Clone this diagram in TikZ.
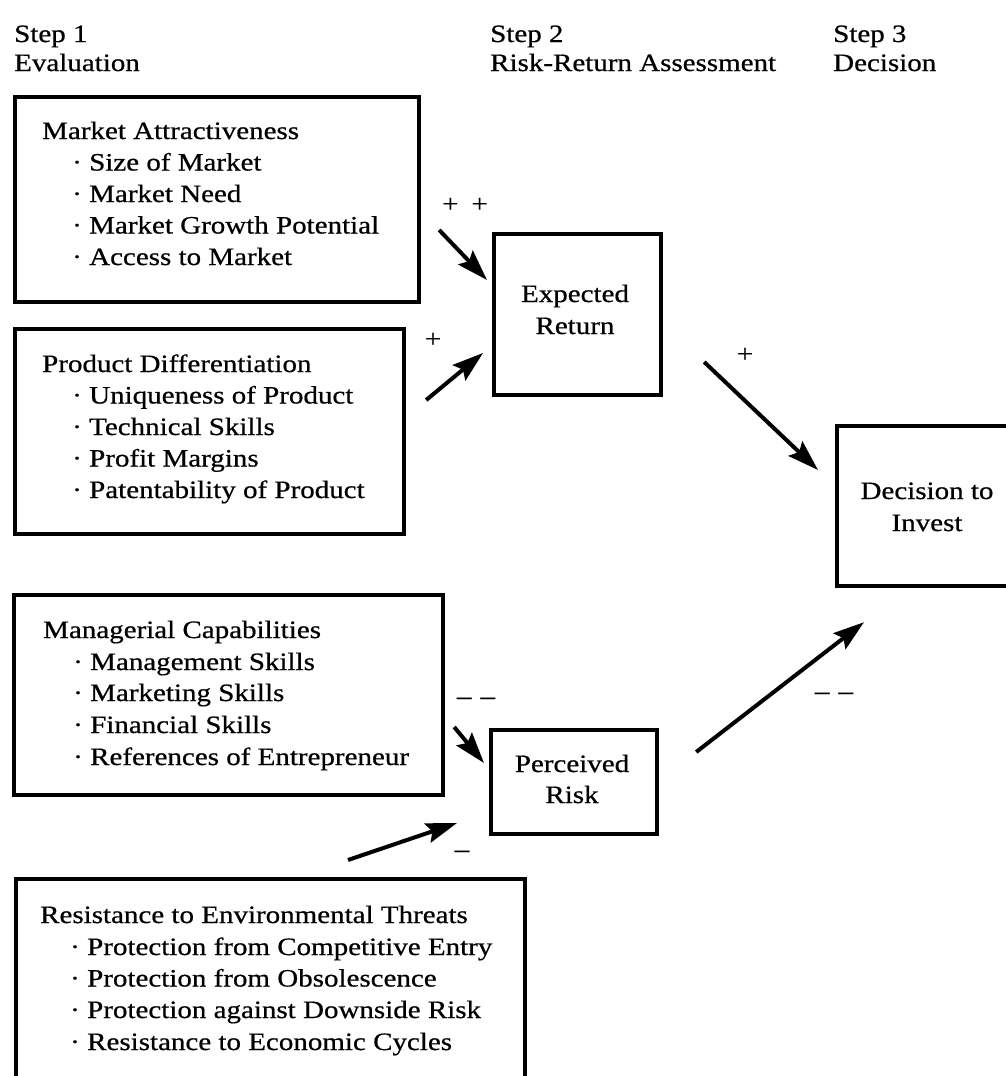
\documentclass[tikz,border=0pt]{standalone}
\usepackage{fontspec}
\setmainfont{Liberation Serif}[FakeStretch=1.16,FakeBold=0.6]
\usetikzlibrary{arrows.meta,calc}
\newcommand{\bt}{\fontsize{25}{31.5}\selectfont}
\newcommand{\itm}[1]{\hspace*{30pt}\makebox[17pt][l]{·}#1}
\tikzset{
  frame/.style={draw=black, line width=4.2pt, inner sep=0pt, anchor=north west},
  txt/.style={inner sep=0pt, anchor=base west, font=\bt},
  ctxt/.style={inner sep=0pt, anchor=base, font=\bt},
  sign/.style={inner sep=0pt, anchor=center, font=\bt},
  arr/.style={line width=4pt, -{Stealth[length=31pt,width=20pt,inset=5pt]}}
}
\begin{document}
\begin{tikzpicture}[x=1pt,y=-1pt]
\clip (0,0) rectangle (1006,1076);
\fill[white] (0,0) rectangle (1006,1076);

% headings
\node[txt] (h1a) at (14,42) {Step 1};
\node[txt] (h1b) at (14,71) {Evaluation};
\node[txt] (h2a) at (490,42) {Step 2};
\node[txt] (h2b) at (490,71) {Risk-Return Assessment};
\node[txt] (h3a) at (833,42) {Step 3};
\node[txt] (h3b) at (833,71) {Decision};

% boxes
\node[frame, minimum width=404pt, minimum height=205pt] (ma) at (13,95) {};
\node[frame, minimum width=389pt, minimum height=205pt] (pd) at (13,327) {};
\node[frame, minimum width=429pt, minimum height=200pt] (mc) at (12,593) {};
\node[frame, minimum width=509pt, minimum height=230pt] (rt) at (14,877) {};
\node[frame, minimum width=167pt, minimum height=161pt] (er) at (492,232) {};
\node[frame, minimum width=166pt, minimum height=104pt] (pr) at (489,728) {};
\node[frame, minimum width=185pt, minimum height=160pt] (di) at (835,424) {};

% Market Attractiveness
\node[txt] (ma0) at (42,139) {Market Attractiveness};
\node[txt] (ma1) at (42,170.5) {\itm{Size of Market}};
\node[txt] (ma2) at (42,202) {\itm{Market Need}};
\node[txt] (ma3) at (42,233.5) {\itm{Market Growth Potential}};
\node[txt] (ma4) at (42,265) {\itm{Access to Market}};

% Product Differentiation
\node[txt] (pd0) at (42,372) {Product Differentiation};
\node[txt] (pd1) at (42,403.5) {\itm{Uniqueness of Product}};
\node[txt] (pd2) at (42,435) {\itm{Technical Skills}};
\node[txt] (pd3) at (42,466.5) {\itm{Profit Margins}};
\node[txt] (pd4) at (42,498) {\itm{Patentability of Product}};

% Managerial Capabilities
\node[txt] (mc0) at (43,638) {Managerial Capabilities};
\node[txt] (mc1) at (43,670) {\itm{Management Skills}};
\node[txt] (mc2) at (43,701) {\itm{Marketing Skills}};
\node[txt] (mc3) at (43,733) {\itm{Financial Skills}};
\node[txt] (mc4) at (43,765) {\itm{References of Entrepreneur}};

% Resistance
\node[txt] (rt0) at (40,923) {Resistance to Environmental Threats};
\node[txt] (rt1) at (40,955) {\itm{Protection from Competitive Entry}};
\node[txt] (rt2) at (40,986.5) {\itm{Protection from Obsolescence}};
\node[txt] (rt3) at (40,1018) {\itm{Protection against Downside Risk}};
\node[txt] (rt4) at (40,1050) {\itm{Resistance to Economic Cycles}};

% center boxes text
\node[ctxt] (er0) at (575,302) {Expected};
\node[ctxt] (er1) at (575,334) {Return};
\node[ctxt] (pr0) at (572,772) {Perceived};
\node[ctxt] (pr1) at (572,803) {Risk};
\node[ctxt] (di0) at (927,499) {Decision to};
\node[ctxt] (di1) at (927,531) {Invest};

% signs
\node[sign] (s1) at (465,205) {+\hspace{13pt}+};
\node[sign] (s2) at (433,340) {+};
\node[sign] (s3) at (745,355) {+};
\node[sign] (s4) at (476,701) {–\hspace{9pt}–};
\node[sign] (s5) at (462,854) {–};
\node[sign] (s6) at (834,696) {–\hspace{9pt}–};

% arrow end points
\coordinate (a1s) at ($(ma.north east)+(18,135)$);
\coordinate (a1e) at ($(er.north west)+(-5,48)$);
\coordinate (a2s) at ($(pd.north east)+(20,73)$);
\coordinate (a2e) at ($(er.north west)+(-9,121)$);
\coordinate (a3s) at ($(er.north east)+(41,130)$);
\coordinate (a3e) at ($(di.north west)+(-17,46)$);
\coordinate (a4s) at ($(mc.north east)+(9,134)$);
\coordinate (a4e) at ($(pr.north west)+(-5,35)$);
\coordinate (a5s) at ($(rt.north west)+(334,-17)$);
\coordinate (a5e) at ($(pr.north west)+(-32,95)$);
\coordinate (a6s) at ($(pr.north east)+(37,24)$);
\coordinate (a6e) at ($(di.south west)+(29,34)$);

\draw[arr] (a1s) -- (a1e);
\draw[arr] (a2s) -- (a2e);
\draw[arr] (a3s) -- (a3e);
\draw[arr] (a4s) -- (a4e);
\draw[arr] (a5s) -- (a5e);
\draw[arr] (a6s) -- (a6e);
\end{tikzpicture}
\end{document}
